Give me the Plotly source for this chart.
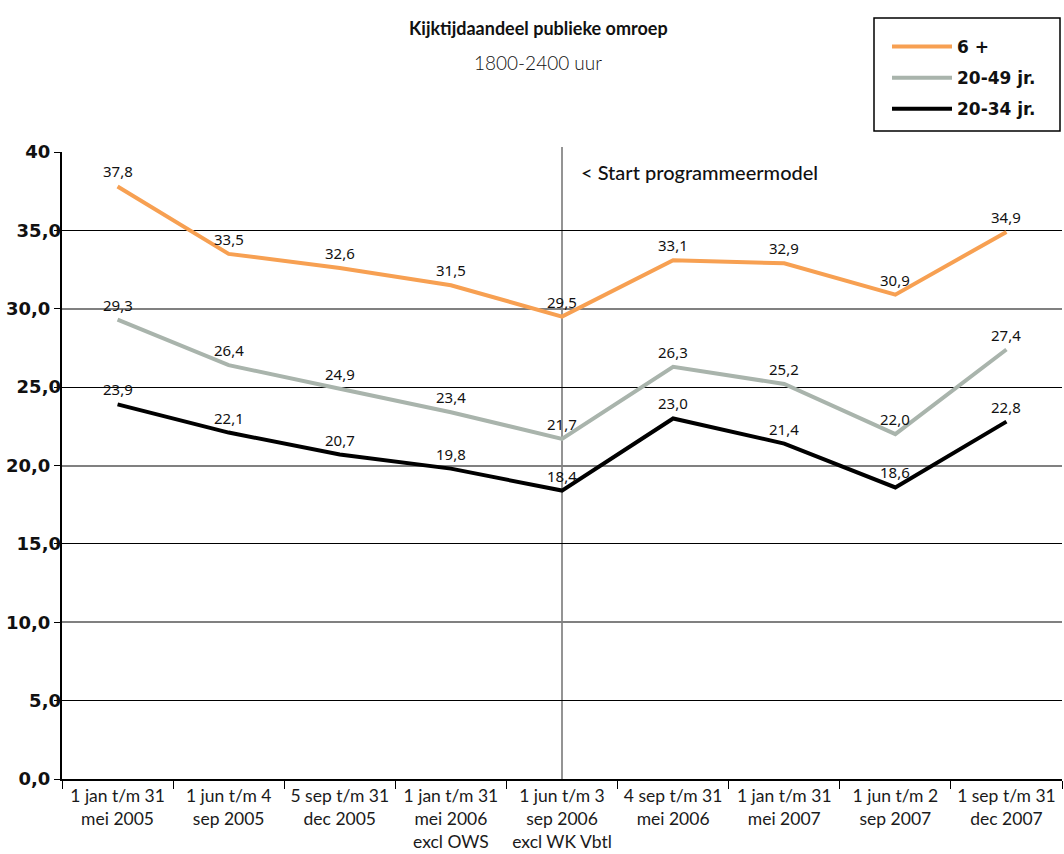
import plotly.graph_objects as go

categories = [
    "1 jan t/m 31<br>mei 2005",
    "1 jun t/m 4<br>sep 2005",
    "5 sep t/m 31<br>dec 2005",
    "1 jan t/m 31<br>mei 2006<br>excl OWS",
    "1 jun t/m 3<br>sep 2006<br>excl WK Vbtl",
    "4 sep t/m 31<br>mei 2006",
    "1 jan t/m 31<br>mei 2007",
    "1 jun t/m 2<br>sep 2007",
    "1 sep t/m 31<br>dec 2007",
]
series_names = ["6 +", "20-49 jr.", "20-34 jr."]
v_6plus = [37.8, 33.5, 32.6, 31.5, 29.5, 33.1, 32.9, 30.9, 34.9]
v_2049 = [29.3, 26.4, 24.9, 23.4, 21.7, 26.3, 25.2, 22.0, 27.4]
v_2034 = [23.9, 22.1, 20.7, 19.8, 18.4, 23.0, 21.4, 18.6, 22.8]
colors = ["#F7A052", "#A9B4AC", "#000000"]

major_vals = [0, 10, 20, 30, 40]
major_text = ["0,0", "10,0", "20,0", "30,0", "40"]
minor_vals = [5, 15, 25, 35]
minor_text = ["5,0", "15,0", "25,0", "35,0"]

start_index = 4
start_label = "< Start programmeermodel"
title = "Kijktijdaandeel publieke omroep"
subtitle = "1800-2400 uur"


def fmt(v):
    return f"{v:.1f}".replace(".", ",")


fig = go.Figure()
all_series = [v_6plus, v_2049, v_2034]
for i, (name, vals, col) in enumerate(zip(series_names, all_series, colors)):
    fig.add_trace(go.Scatter(
        x=categories, y=vals, name=name, mode="lines",
        line=dict(color=col, width=4),
        legendgroup=f"g{i}",
        yaxis="y2" if i == 0 else "y",
    ))
    for c, v in zip(categories, vals):
        fig.add_annotation(x=c, y=v, xref="x", yref="y", text=fmt(v),
                           showarrow=False, xanchor="center", yanchor="middle",
                           yshift=15,
                           font=dict(family="Noto Sans", size=15, color="#111111"))

fig.add_shape(type="line", xref="x", yref="paper", x0=start_index, x1=start_index,
              y0=0, y1=1.008, line=dict(color="#707070", width=1.5), layer="between")

# legend frame
fig.add_shape(type="rect", xref="paper", yref="paper", x0=0.812, x1=0.998,
              y0=1.0335, y1=1.2137, line=dict(color="#000000", width=1.5),
              fillcolor="rgba(0,0,0,0)")

fig.add_annotation(x=start_index, y=38.7, xref="x", yref="y", text=start_label,
                   showarrow=False, xanchor="left", yanchor="middle", xshift=17,
                   font=dict(family="Lato", size=20, color="#111111", weight=500))

fig.add_annotation(x=0.476, y=1.198, xref="paper", yref="paper", text=title,
                   showarrow=False, xanchor="center", yanchor="middle",
                   font=dict(family="Lato", size=18, color="#111111", weight=700))
fig.add_annotation(x=0.476, y=1.1435, xref="paper", yref="paper", text=subtitle,
                   showarrow=False, xanchor="center", yanchor="middle",
                   font=dict(family="Lato", size=19, color="#111111", weight=300))

tickfont_y = dict(family="DejaVu Sans", size=18, color="#111111", weight=700)

fig.update_layout(
    width=1064, height=854,
    margin=dict(l=62, r=2, t=152, b=75),
    paper_bgcolor="white", plot_bgcolor="white",
    showlegend=True,
    legend=dict(x=0.825, y=1.1962, xanchor="left", yanchor="top",
                borderwidth=0, bgcolor="rgba(0,0,0,0)",
                font=dict(family="DejaVu Sans", size=17, color="#111111", weight=700),
                tracegroupgap=6, itemwidth=60),
    xaxis=dict(type="category", tickson="boundaries", ticks="outside", ticklen=8,
               tickcolor="#000000", tickwidth=1, showgrid=False,
               showline=True, linecolor="#000000", linewidth=2,
               tickfont=dict(family="Lato", size=17.5, color="#1a1a1a"),
               range=[-0.5, len(categories) - 0.5]),
    yaxis=dict(range=[0, 40], tickmode="array", tickvals=major_vals, ticktext=major_text,
               showgrid=True, gridcolor="#808080", gridwidth=2,
               ticks="outside", ticklen=6, tickcolor="#000000",
               showline=True, linecolor="#000000", linewidth=2,
               tickfont=tickfont_y, zeroline=False,
               minor=dict(tickmode="array", tickvals=minor_vals, showgrid=True,
                          gridcolor="#000000", gridwidth=1, ticks="outside", ticklen=6,
                          tickcolor="#000000")),
    yaxis2=dict(matches="y", overlaying="y", side="left", tickmode="array",
                tickvals=minor_vals, ticktext=minor_text, showgrid=False,
                showline=False, ticks="", zeroline=False, tickfont=tickfont_y),
)

fig.write_html("out.html", config={"displayModeBar": False},
               post_script="document.body.style.margin='0px';")
